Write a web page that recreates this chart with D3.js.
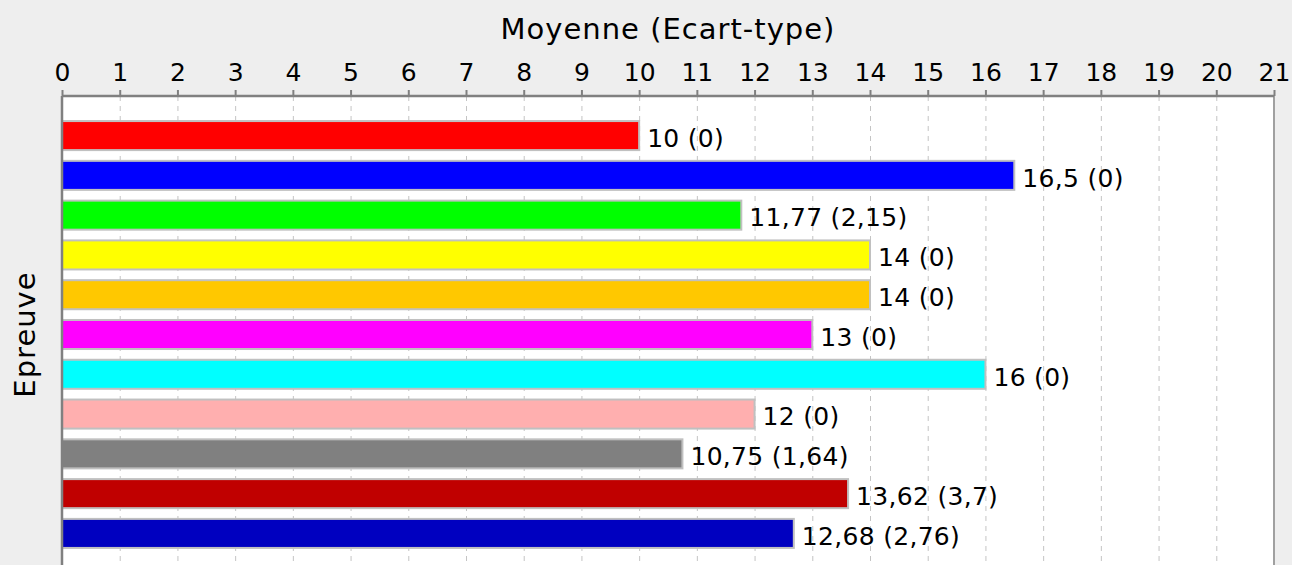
<!DOCTYPE html>
<html>
<head>
<meta charset="utf-8">
<script src="https://cdn.jsdelivr.net/npm/d3@7"></script>
<style>
  body { margin: 0; background: #eeeeee; }
  svg { display: block; font-family: "DejaVu Sans", sans-serif; }
</style>
</head>
<body>
<svg width="1292" height="565"></svg>
<script>
var categories = ["E1", "E2", "E3", "E4", "E5", "E6", "E7", "E8", "E9", "E10", "E11"];
var means = [10, 16.5, 11.77, 14, 14, 13, 16, 12, 10.75, 13.62, 12.68];
var stdevs = [0, 0, 2.15, 0, 0, 0, 0, 0, 1.64, 3.7, 2.76];
var colors = ["#ff0000", "#0000ff", "#00ff00", "#ffff00", "#ffc800", "#ff00ff",
              "#00ffff", "#ffafaf", "#808080", "#c00000", "#0000c0"];
var xTicks = d3.range(0, 22);

var svg = d3.select("svg");
var margin = {top: 96, left: 62, right: 18, bottom: -8};
var width = +svg.attr("width") - margin.left - margin.right;
var height = +svg.attr("height") - margin.top - margin.bottom;

var fmt = function(v) { return String(v).replace(".", ","); };

var x = d3.scaleLinear().domain([0, 21]).range([0, width]);
var y = d3.scaleBand().domain(categories).range([0, height])
  .paddingInner(0.27).paddingOuter(0.63);

var g = svg.append("g")
  .attr("transform", "translate(" + margin.left + "," + margin.top + ")");

// plot background
g.append("rect")
  .attr("width", width).attr("height", height)
  .attr("fill", "#ffffff");

// grid
g.append("g").selectAll("line")
  .data(xTicks.slice(1, -1)).enter()
  .append("line")
  .attr("x1", function(d) { return x(d) + 0.5; })
  .attr("x2", function(d) { return x(d) + 0.5; })
  .attr("y1", 0).attr("y2", height)
  .attr("stroke", "#c4c4c4")
  .attr("stroke-width", 1)
  .attr("stroke-dasharray", "5,5");

// right border
g.append("line")
  .attr("x1", width).attr("x2", width)
  .attr("y1", 0).attr("y2", height)
  .attr("stroke", "#a0a0a0").attr("stroke-width", 2);

// bars
g.append("g").selectAll("rect")
  .data(categories).enter()
  .append("rect")
  .attr("x", 0)
  .attr("y", function(d) { return y(d); })
  .attr("width", function(d, i) { return x(means[i]); })
  .attr("height", y.bandwidth())
  .attr("fill", function(d, i) { return colors[i]; })
  .attr("stroke", "#c0c0c0")
  .attr("stroke-width", 2);

// value labels
g.append("g").selectAll("text")
  .data(categories).enter()
  .append("text")
  .attr("x", function(d, i) { return x(means[i]) + 8; })
  .attr("y", function(d) { return y(d) + y.bandwidth() / 2; })
  .attr("dy", "0.45em")
  .attr("font-size", 25)
  .attr("letter-spacing", 0.3)
  .attr("fill", "#000")
  .text(function(d, i) { return fmt(means[i]) + " (" + fmt(stdevs[i]) + ")"; });

// top axis
var axisG = g.append("g")
  .call(d3.axisTop(x).tickValues(xTicks).tickSize(6).tickPadding(9).tickFormat(d3.format("d")));
axisG.select(".domain").attr("stroke", "#808080").attr("stroke-width", 2.5)
  .attr("d", "M0,0H" + width);
axisG.selectAll(".tick line").attr("stroke", "#808080").attr("stroke-width", 2);
axisG.selectAll(".tick text").attr("font-size", 25).attr("fill", "#000")
  .attr("font-family", "DejaVu Sans, sans-serif");

// left axis line
g.append("line")
  .attr("x1", 0).attr("x2", 0)
  .attr("y1", 0).attr("y2", height)
  .attr("stroke", "#808080").attr("stroke-width", 2.5);

// titles
svg.append("text")
  .attr("x", margin.left + width / 2)
  .attr("y", 39)
  .attr("text-anchor", "middle")
  .attr("font-size", 29)
  .attr("letter-spacing", 1)
  .text("Moyenne (Ecart-type)");

svg.append("text")
  .attr("transform", "translate(35," + (margin.top + height / 2) + ") rotate(-90)")
  .attr("text-anchor", "middle")
  .attr("font-size", 29)
  .attr("letter-spacing", 1)
  .text("Epreuve");
</script>
</body>
</html>
